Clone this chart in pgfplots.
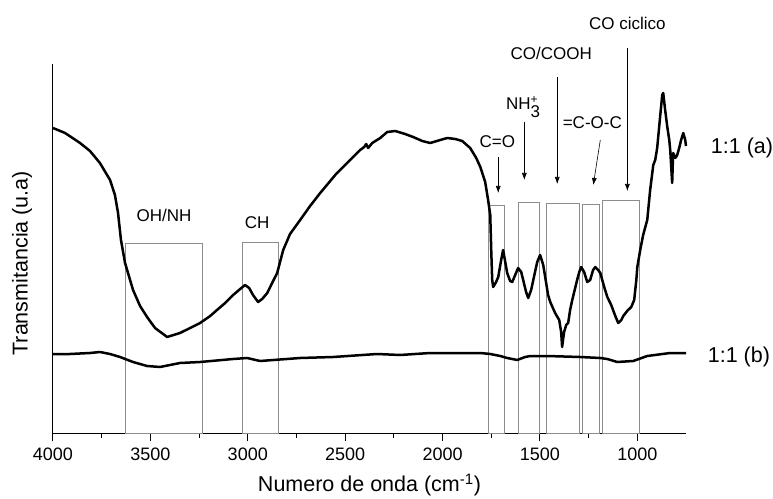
\documentclass[border=0pt]{standalone}
\usepackage{pgfplots}
\pgfplotsset{compat=1.18}
\usepackage{fontspec}
\setmainfont{Liberation Sans}
\usetikzlibrary{arrows.meta}
\newcommand{\annfont}{\fontsize{17}{19}\selectfont}
\newcommand{\labfont}{\fontsize{21.5}{24}\selectfont}
\begin{document}
\begin{tikzpicture}[x=1pt,y=1pt]
\path[use as bounding box] (0,0) rectangle (773,498);
\begin{axis}[
  at={(53pt,65pt)}, anchor=south west, scale only axis,
  width=633pt, height=369pt,
  x dir=reverse, xmin=750, xmax=4000, ymin=0, ymax=369,
  axis x line*=bottom, axis y line*=left,
  axis line style={line width=1pt},
  ytick=\empty,
  xtick={1000,1500,...,4000}, minor x tick num=1,
  tick align=outside, major tick length=8pt, minor tick length=4.5pt,
  every tick/.style={black, line width=1pt},
  scaled x ticks=false,
  /pgf/number format/assume math mode=true,
  /pgf/number format/1000 sep={},
  xticklabel style={font=\fontsize{18}{20}\selectfont, yshift=-3pt},
  xlabel={Numero de onda (cm\textsuperscript{-1})},
  ylabel={Transmitancia (u.a)},
  x label style={font=\labfont, at={(axis description cs:0.5,-0.141)}, anchor=center},
  y label style={font=\labfont, at={(axis description cs:-0.049,0.46)}, anchor=center, rotate=0},
  clip=false,
]
% boxes
\begin{scope}[draw=black!45, line width=0.8pt]
\draw (axis cs:3630,0) rectangle (axis cs:3235,190);
\draw (axis cs:3029,0) rectangle (axis cs:2844,191);
\draw (axis cs:1765,0) rectangle (axis cs:1683,228);
\draw (axis cs:1611,0) rectangle (axis cs:1503,231);
\draw (axis cs:1467,0) rectangle (axis cs:1298,230);
\draw (axis cs:1283,0) rectangle (axis cs:1195,229);
\draw (axis cs:1180,0) rectangle (axis cs:990,233);
\end{scope}
% curve (a)
\addplot[black, line width=2.5pt, line join=round, no marks] coordinates {
(4000,305) (3938,300) (3861,290) (3810,282) (3759,270) (3707,253) (3682,238)
(3666,220) (3651,193) (3630,170) (3589,143) (3553,127) (3517,116) (3476,105)
(3414,96) (3348,100) (3296,105) (3245,110) (3193,117) (3158,123) (3116,130)
(3075,138) (3039,144) (3014,148) (2993,145) (2973,138) (2947,131) (2926,134)
(2900,140) (2875,150) (2849,160) (2818,183) (2783,199) (2731,213) (2680,227)
(2628,240) (2551,258) (2474,273) (2423,283) (2402,286) (2392,289) (2382,285)
(2361,290) (2320,295) (2284,301) (2243,302) (2192,299) (2151,296) (2104,292)
(2063,290) (2012,293) (1976,295) (1935,294) (1899,292) (1858,285) (1827,275)
(1806,266) (1781,251) (1766,233) (1755,218) (1750,183) (1745,153) (1740,146)
(1725,151) (1714,156) (1699,173) (1689,183) (1678,171) (1668,160) (1653,152)
(1642,151) (1627,158) (1612,165) (1596,161) (1586,153) (1571,141) (1560,135)
(1545,143) (1534,153) (1514,171) (1499,178) (1483,168) (1473,156) (1458,138)
(1447,131) (1422,120) (1401,113) (1391,101) (1386,86) (1376,101) (1365,108)
(1355,110) (1345,123) (1334,133) (1319,145) (1309,153) (1298,161) (1288,166)
(1273,161) (1257,151) (1242,153) (1227,163) (1216,166) (1201,163) (1190,160)
(1170,146) (1154,136) (1134,128) (1113,117) (1098,110) (1082,113) (1072,117)
(1052,122) (1031,126) (1016,133) (1005,153) (1000,166) (985,183) (970,198)
(949,213) (934,243) (918,268) (908,273) (898,285) (882,318) (872,338)
(867,340) (857,323) (846,306) (836,293) (831,283) (821,250) (816,280)
(805,275) (795,278) (785,285) (775,293) (764,300) (754,293) (750,287)
};
% curve (b)
\addplot[black, line width=2.5pt, line join=round, no marks] coordinates {
(4000,79) (3913,79) (3810,80) (3759,81) (3707,79) (3656,76) (3589,71)
(3517,67) (3450,66) (3399,68) (3348,70) (3245,71) (3075,74) (3003,75)
(2937,72) (2731,75) (2562,76) (2336,79) (2218,78) (2063,80) (1806,80)
(1755,79) (1704,77) (1668,75) (1617,73) (1576,76) (1550,77) (1463,77)
(1293,76) (1190,75) (1154,74) (1103,71) (1021,72) (949,77) (831,80) (750,80)
};
% arrows
\begin{scope}[line width=0.6pt, -{Latex[length=7pt,width=5pt]}]
\draw (axis cs:1714,276) -- (axis cs:1714,240);
\draw (axis cs:1580,311) -- (axis cs:1580,253);
\draw (axis cs:1411,356) -- (axis cs:1411,249);
\draw (axis cs:1190,293) -- (axis cs:1226,248);
\draw (axis cs:1051,385) -- (axis cs:1051,242);
\end{scope}
% annotation texts
\node[font=\annfont] at (axis cs:3430,218) {OH/NH};
\node[font=\annfont] at (axis cs:2952,210) {CH};
\node[font=\annfont] at (axis cs:1719,291) {C=O};
\node[font=\annfont] at (axis cs:1585,326) {NH$_{\mbox{\annfont 3}}^{\mbox{\fontsize{12}{12}\selectfont +}}$};
\node[font=\annfont] at (axis cs:1442,380) {CO/COOH};
\node[font=\annfont] at (axis cs:1231,310) {=C-O-C};
\node[font=\annfont] at (axis cs:1051,410) {CO ciclico};
\node[font=\labfont, anchor=west] at (axis cs:640,285) {1:1 (a)};
\node[font=\labfont, anchor=west] at (axis cs:656,76) {1:1 (b)};
\end{axis}
\end{tikzpicture}
\end{document}
